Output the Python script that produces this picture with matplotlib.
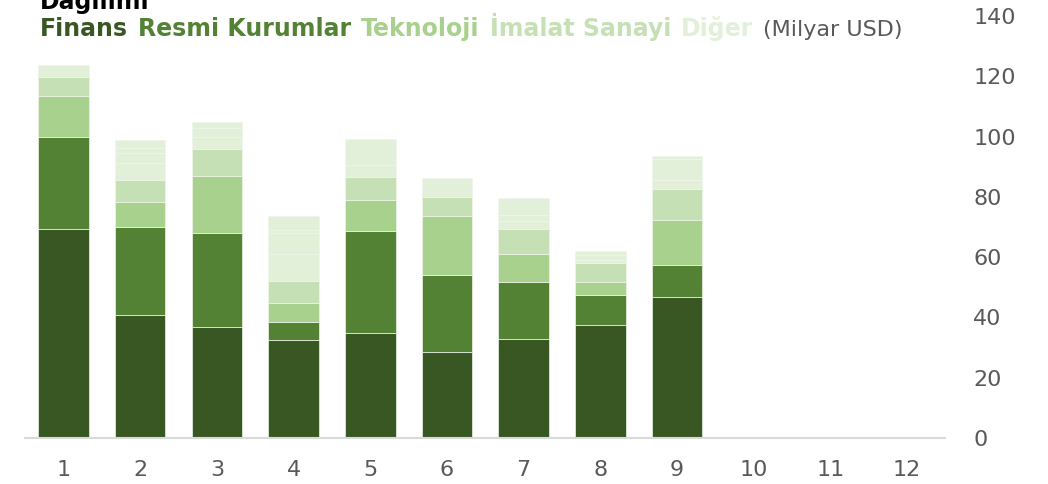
import numpy as np
import matplotlib
matplotlib.use("Agg")
import matplotlib.pyplot as plt

categories = [str(i) for i in range(1, 13)]

# values in Milyar USD, 9 filled columns out of 12
finans = [69.2, 40.9, 36.7, 32.6, 35.0, 28.7, 32.8, 37.6, 46.8]
resmi = [30.8, 29.2, 31.2, 6.0, 33.7, 25.4, 18.9, 9.7, 10.7]
teknoloji = [13.3, 8.3, 19.1, 6.2, 10.3, 19.5, 9.4, 4.5, 14.9]
imalat = [6.6, 7.3, 8.8, 7.4, 7.7, 6.5, 8.3, 6.2, 10.2]
# "Diğer" is made of several smaller pieces with the same colour
diger_a = [3.9, 5.5, 4.0, 8.8, 3.8, 6.0, 2.6, 1.2, 2.9]
diger_b = [0, 3.3, 3.2, 7.1, 8.8, 0, 2.0, 1.4, 7.0]
diger_c = [0, 1.6, 1.7, 0.9, 0, 0, 5.6, 1.6, 1.1]
diger_d = [0, 2.6, 0, 4.8, 0, 0, 0, 0, 0]

series = [
    ("Finans", finans, "#385723"),
    ("Resmi Kurumlar", resmi, "#548235"),
    ("Teknoloji", teknoloji, "#a9d18e"),
    ("İmalat Sanayi", imalat, "#c5e0b4"),
    ("Diğer", diger_a, "#e2f0d9"),
    ("Diğer", diger_b, "#e2f0d9"),
    ("Diğer", diger_c, "#e2f0d9"),
    ("Diğer", diger_d, "#e2f0d9"),
]

fig = plt.figure(figsize=(10.48, 4.84), dpi=100)
ax = fig.add_axes([0.024, 0.095, 0.878, 0.872])

x = np.arange(1, len(finans) + 1)
bottom = np.zeros(len(finans))
for name, vals, col in series:
    v = np.array(vals, dtype=float)
    h = np.where(v > 0, v, np.nan)
    ax.bar(x, h, bottom=bottom, width=0.66, color=col,
           edgecolor="#eef5ea", linewidth=0.5)
    bottom += v

ax.set_xlim(0.5, 12.5)
ax.set_ylim(0, 140)
ax.set_xticks(range(1, 13))
ax.set_xticklabels(categories)
ax.set_yticks(range(0, 141, 20))
ax.yaxis.tick_right()
ax.tick_params(axis="both", length=0, labelsize=16, colors="#595959")
ax.tick_params(axis="y", pad=20)
ax.tick_params(axis="x", pad=16)
for lab in ax.get_yticklabels():
    lab.set_horizontalalignment("left")
for s in ["top", "left", "right"]:
    ax.spines[s].set_visible(False)
ax.spines["bottom"].set_color("#d9d9d9")
ax.spines["bottom"].set_linewidth(1.5)

# title (cut at top, as in the source) and coloured subtitle
fig.text(40 / 1048, 1 - 9 / 484, "Dağılımı", fontsize=17, fontweight="bold",
         color="black", va="baseline")

parts = [("Finans", "#385723", "bold"), ("Resmi Kurumlar", "#548235", "bold"),
         ("Teknoloji", "#a9d18e", "bold"), ("İmalat Sanayi", "#c5e0b4", "bold"),
         ("Diğer", "#e2f0d9", "bold"), ("(Milyar USD)", "#595959", "normal")]
renderer = fig.canvas.get_renderer()
xpos = 40
for txt, col, w in parts:
    fs = 16 if w == "normal" else 17
    t = fig.text(xpos / 1048, 1 - 36 / 484, txt, fontsize=fs, fontweight=w,
                 color=col, va="baseline")
    bb = t.get_window_extent(renderer)
    xpos = bb.x1 + 10

fig.savefig("out.png", dpi=100)
